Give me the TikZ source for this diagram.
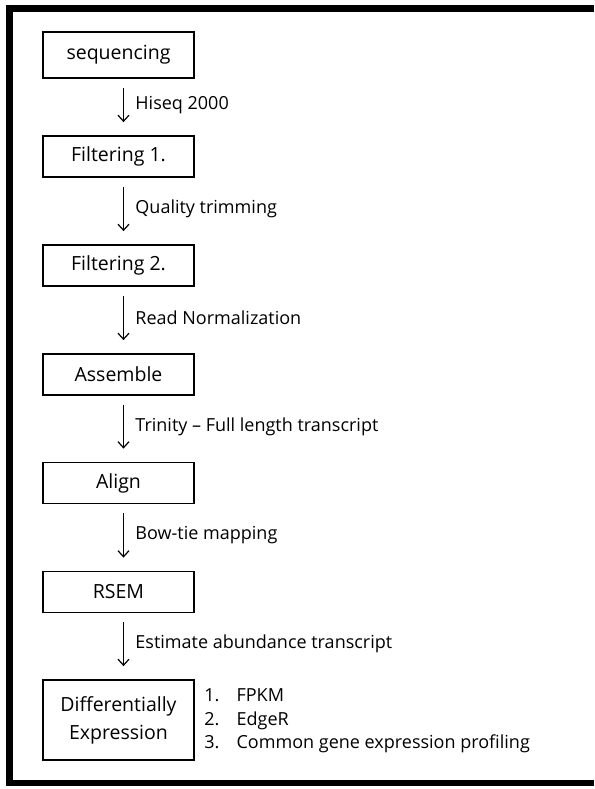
\documentclass[tikz,border=0pt]{standalone}
\usepackage{fontspec}
\setmainfont{Open Sans}
\usepackage{tikz}
\usetikzlibrary{arrows.meta, positioning}

\begin{document}
\begin{tikzpicture}[x=1pt, y=-1pt,
    stagebox/.style={draw, line width=1.8pt, minimum width=151pt, minimum height=41pt, inner sep=2pt, font=\fontsize{19.5}{28}\selectfont, align=center},
    flow/.style={-{Straight Barb[length=6pt, width=11pt]}, line width=1.2pt, shorten <=9pt, shorten >=13pt},
    steplabel/.style={right, xshift=8pt, yshift=2pt, font=\fontsize{18}{22}\selectfont}]
    % page and frame (right side is cut off)
    \useasboundingbox (0,0) rectangle (594,789);
    \draw[line width=6.5pt] (594,8.5) -- (9.5,8.5) -- (9.5,783) -- (594,783);

    % stages of the pipeline
    \foreach \name/\y/\txt in {filone/156.5/Filtering 1., filtwo/265.5/Filtering 2., asm/374.5/Assemble, aln/483/Align, rsem/592/RSEM} {
        \node[stagebox] (\name) at (118.5,\y) {\txt};
    }
    \node[stagebox, minimum height=46pt] (seq) at (118.5,55) {sequencing};
    \node[stagebox, minimum height=80pt] (dexp) at (118.5,720) {Differentially\\Expression};

    % arrows between stages
    \draw[flow] ([xshift=5pt]seq.south) -- ([xshift=5pt]filone.north) node[midway, steplabel] {Hiseq 2000};
    \draw[flow] ([xshift=5pt]filone.south) -- ([xshift=5pt]filtwo.north) node[midway, steplabel] {Quality trimming};
    \draw[flow] ([xshift=5pt]filtwo.south) -- ([xshift=5pt]asm.north) node[midway, steplabel] {Read Normalization};
    \draw[flow] ([xshift=5pt]asm.south) -- ([xshift=5pt]aln.north) node[midway, steplabel] {Trinity – Full length transcript};
    \draw[flow] ([xshift=5pt]aln.south) -- ([xshift=5pt]rsem.north) node[midway, steplabel] {Bow-tie mapping};
    \draw[flow] ([xshift=5pt]rsem.south) -- ([xshift=5pt]dexp.north) node[midway, steplabel] {Estimate abundance transcript};

    % analysis list
    \node[right=6pt of dexp, yshift=-1pt, font=\fontsize{18}{23.5}\selectfont, align=left] (results) {%
        1.\hspace{0.95em}FPKM\\
        2.\hspace{0.95em}EdgeR\\
        3.\hspace{0.95em}Common gene expression profiling};
\end{tikzpicture}
\end{document}
